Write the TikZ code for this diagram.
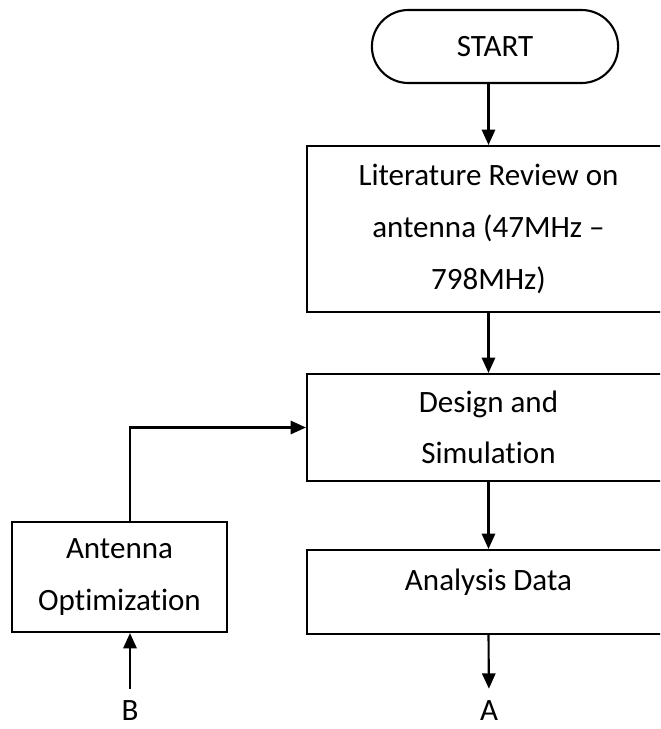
\documentclass[tikz,border=0pt]{standalone}
\usepackage{fontspec}
\setmainfont{Carlito}[Ligatures=NoCommon]
\usepackage{tikz}
\usetikzlibrary{shapes, shapes.misc, arrows.meta, positioning}
\tikzset{
    block/.style={rectangle, draw, line width=1.8pt, align=center, font=\fontsize{26.5}{44}\selectfont},
    terminal/.style={rounded rectangle, draw, line width=1.8pt, font=\fontsize{26.5}{44}\selectfont},
    plain/.style={inner sep=1pt, anchor=base, font=\fontsize{26.5}{44}\selectfont},
    arrow/.style={line width=1.8pt, -{Triangle[length=0.46cm, width=0.4cm]}}
}
\begin{document}
\begin{tikzpicture}[x=0.03cm, y=-0.03cm]
        \clip (0, 0) rectangle (660, 729);

        \node[terminal, minimum width=7.62cm, minimum height=2.19cm] (start) at (495, 46.5) {START};
        \node[block, minimum width=10.89cm, minimum height=4.98cm] (lit) at (488.5, 229) {Literature Review on\\antenna (47MHz --\\798MHz)};
        \node[block, minimum width=10.89cm, minimum height=3.21cm] (design) at (488.5, 427.5) {Design and\\Simulation};
        \node[block, minimum width=10.89cm, minimum height=2.52cm, text depth=0.75cm] (analysis) at (488.5, 592) {Analysis Data};
        \node[block, minimum width=6.45cm, minimum height=3.3cm] (opt) at (119.5, 577) {Antenna\\Optimization};

        \node[plain] (A) at (489, 720) {A};
        \node[plain] (B) at (130, 720) {B};

        % main flow
        \draw[arrow] (lit.north |- start.south) -- (lit.north);
        \draw[arrow] (lit.south) -- (design.north);
        \draw[arrow] (design.south) -- (analysis.north);
        \draw[arrow, shorten >=0.3cm] (analysis.south) -- (A.north);

        % feedback loop
        \draw[arrow, shorten <=0.3cm] (B.north) -- (B.north |- opt.south);
        \draw[arrow] (B.north |- opt.north) |- (design.west);
    \end{tikzpicture}
\end{document}
